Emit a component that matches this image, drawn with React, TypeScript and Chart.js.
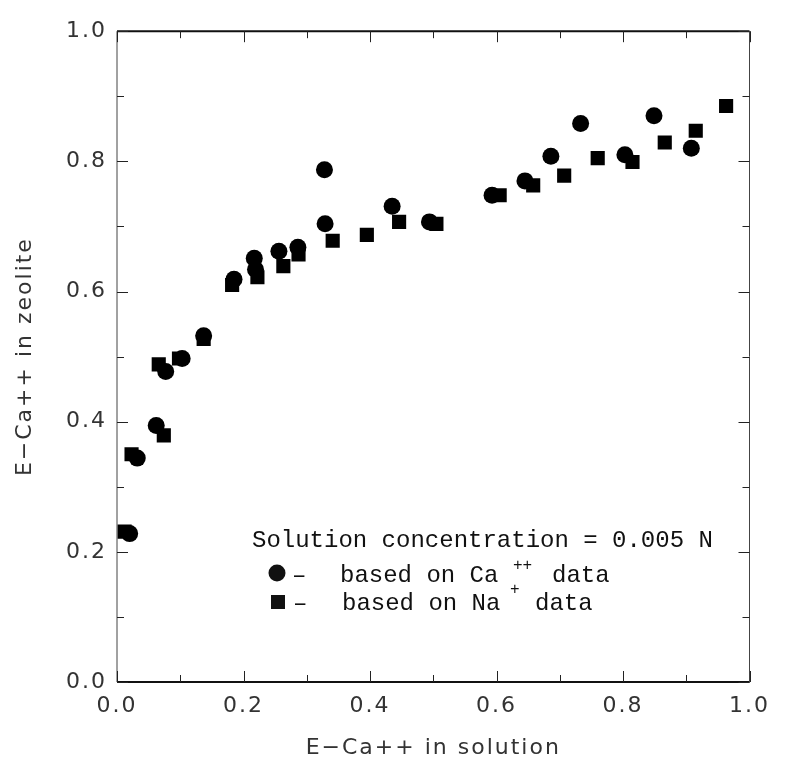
import React, { useEffect, useRef } from "react";
import { Chart, registerables } from "chart.js";

Chart.register(...registerables);

// E-Ca++ in solution / in zeolite, based on Ca++ data (circles)
const caX = [0.020, 0.032, 0.062, 0.077, 0.103, 0.137, 0.185, 0.217, 0.219, 0.256, 0.286, 0.328, 0.329, 0.435, 0.494, 0.593, 0.645, 0.686, 0.733, 0.803, 0.849, 0.908];
const caY = [0.228, 0.344, 0.394, 0.477, 0.497, 0.532, 0.619, 0.651, 0.634, 0.662, 0.668, 0.787, 0.704, 0.731, 0.707, 0.748, 0.770, 0.808, 0.858, 0.810, 0.870, 0.820];

// based on Na+ data (squares)
const naX = [0.012, 0.023, 0.066, 0.074, 0.098, 0.137, 0.182, 0.222, 0.263, 0.287, 0.341, 0.395, 0.446, 0.505, 0.605, 0.658, 0.707, 0.760, 0.815, 0.866, 0.915, 0.963];
const naY = [0.231, 0.350, 0.488, 0.379, 0.497, 0.527, 0.610, 0.622, 0.639, 0.657, 0.678, 0.687, 0.707, 0.704, 0.748, 0.763, 0.778, 0.805, 0.799, 0.829, 0.847, 0.885];

const tickValues = [0, 0.1, 0.2, 0.3, 0.4, 0.5, 0.6, 0.7, 0.8, 0.9, 1.0];

const xTitle = "E\u2212Ca++ in solution";
const yTitle = "E\u2212Ca++ in zeolite";
const legendTitle = "Solution concentration = 0.005 N";

const W = 773;
const H = 753;

const spacingPlugin = {
  id: "spacing",
  beforeLayout(chart: any) {
    chart.ctx.letterSpacing = "2px";
  },
  beforeDraw(chart: any) {
    chart.ctx.letterSpacing = "2px";
  },
};

const framePlugin = {
  id: "frame",
  afterDraw(chart: any) {
    const ctx = chart.ctx;
    const { left, right, top, bottom } = chart.chartArea;
    const xs = chart.scales.x;
    const ys = chart.scales.y;
    ctx.save();
    ctx.letterSpacing = "0px";
    // box
    ctx.strokeStyle = "#111";
    ctx.lineWidth = 2;
    ctx.beginPath();
    ctx.moveTo(left, bottom);
    ctx.lineTo(right, bottom);
    ctx.moveTo(left, top);
    ctx.lineTo(right, top);
    ctx.stroke();
    ctx.lineWidth = 1;
    ctx.strokeStyle = "#444";
    ctx.beginPath();
    ctx.moveTo(left, top);
    ctx.lineTo(left, bottom);
    ctx.moveTo(right, top);
    ctx.lineTo(right, bottom);
    ctx.stroke();
    // inward ticks
    ctx.strokeStyle = "#222";
    ctx.lineWidth = 1;
    ctx.beginPath();
    tickValues.forEach((v, i) => {
      const len = i % 2 === 0 ? 11 : 7;
      const px = Math.round(xs.getPixelForValue(v)) + 0.5;
      const py = Math.round(ys.getPixelForValue(v)) + 0.5;
      ctx.moveTo(px, bottom);
      ctx.lineTo(px, bottom - len);
      ctx.moveTo(px, top);
      ctx.lineTo(px, top + len);
      ctx.moveTo(left, py);
      ctx.lineTo(left + len, py);
      ctx.moveTo(right, py);
      ctx.lineTo(right - len, py);
    });
    ctx.stroke();

    // legend block
    const off = 8;
    ctx.fillStyle = "#111";
    ctx.textBaseline = "alphabetic";
    ctx.textAlign = "left";
    const mono = "24px 'Liberation Mono', monospace";
    ctx.font = mono;
    ctx.fillText(legendTitle, 252 - off, 547 - off);
    // row 1
    ctx.beginPath();
    ctx.arc(277 - off, 573 - off, 8.5, 0, Math.PI * 2);
    ctx.fill();
    ctx.fillText("\u2013", 292 - off, 582 - off);
    ctx.fillText("based on Ca", 340 - off, 582 - off);
    ctx.font = "16px 'Liberation Mono', monospace";
    ctx.fillText("++", 513 - off, 570 - off);
    ctx.font = mono;
    ctx.fillText("data", 552 - off, 582 - off);
    // row 2
    ctx.fillRect(271 - off, 595 - off, 14, 14);
    ctx.fillText("\u2013", 293 - off, 610 - off);
    ctx.fillText("based on Na", 342 - off, 610 - off);
    ctx.font = "16px 'Liberation Mono', monospace";
    ctx.fillText("+", 510 - off, 594 - off);
    ctx.font = mono;
    ctx.fillText("data", 535 - off, 610 - off);
    ctx.restore();
  },
};

export default function App() {
  const ref = useRef<HTMLCanvasElement | null>(null);
  useEffect(() => {
    if (!ref.current) return;
    const tickFont = { family: "'DejaVu Sans', sans-serif", size: 22 };
    const chart = new Chart(ref.current, {
      type: "scatter",
      data: {
        datasets: [
          {
            label: "based on Ca++ data",
            data: caX.map((x, i) => ({ x, y: caY[i] })),
            pointStyle: "circle",
            pointRadius: 8.5,
            pointBorderWidth: 0,
            backgroundColor: "#000",
            borderColor: "#000",
          },
          {
            label: "based on Na+ data",
            data: naX.map((x, i) => ({ x, y: naY[i] })),
            pointStyle: "rect",
            pointRadius: 10,
            pointBorderWidth: 0,
            backgroundColor: "#000",
            borderColor: "#000",
          },
        ],
      },
      options: {
        animation: false,
        responsive: false,
        maintainAspectRatio: false,
        layout: { padding: { top: 12, right: 14, left: 0, bottom: 0 } },
        plugins: { legend: { display: false }, tooltip: { enabled: false } },
        scales: {
          x: {
            type: "linear",
            min: 0,
            max: 1,
            grid: { display: false, drawTicks: false },
            border: { display: false },
            ticks: {
              stepSize: 0.2,
              autoSkip: false,
              maxRotation: 0,
              padding: 11,
              color: "#333",
              font: tickFont,
              callback: (v: any) => Number(v).toFixed(1),
            },
            title: {
              display: true,
              text: xTitle,
              color: "#333",
              font: { family: "'DejaVu Sans', sans-serif", size: 22 },
              padding: { top: 0, bottom: 0 },
            },
            afterFit: (s: any) => {
              s.height = 79;
            },
          },
          y: {
            type: "linear",
            min: 0,
            max: 1,
            grid: { display: false, drawTicks: false },
            border: { display: false },
            ticks: {
              stepSize: 0.2,
              autoSkip: false,
              padding: 10,
              color: "#333",
              font: tickFont,
              callback: (v: any) => Number(v).toFixed(1),
            },
            title: {
              display: true,
              text: yTitle,
              color: "#333",
              font: { family: "'DejaVu Sans', sans-serif", size: 22 },
              padding: { top: 4, bottom: 0 },
            },
            afterFit: (s: any) => {
              s.width = 109;
            },
          },
        },
      },
      plugins: [spacingPlugin, framePlugin],
    } as any);
    return () => chart.destroy();
  }, []);
  return (
    <div style={{ width: W, height: H }}>
      <canvas ref={ref} width={W} height={H} style={{ width: W, height: H, display: "block" }} />
    </div>
  );
}
